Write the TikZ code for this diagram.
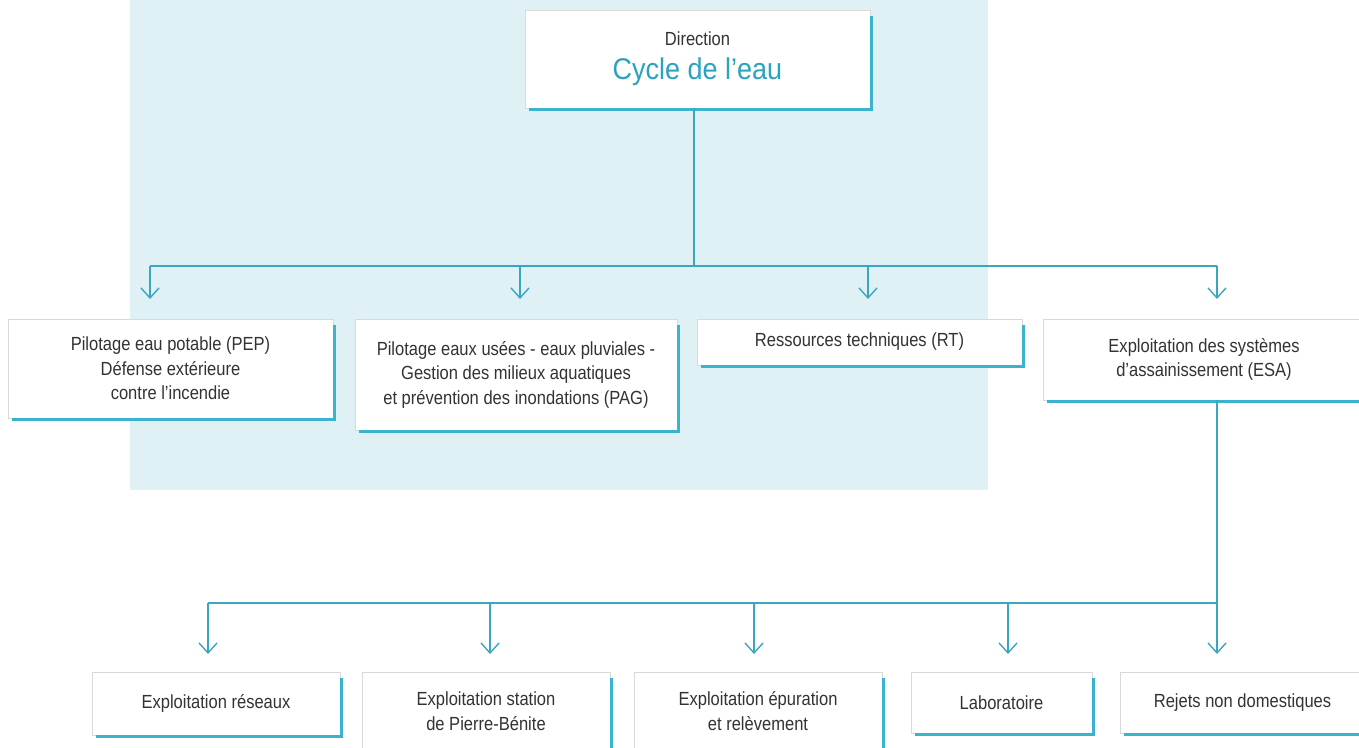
\documentclass[tikz,border=0pt]{standalone}
\usepackage{fontspec}
\setmainfont{Liberation Sans}[FakeStretch=0.87]
\newfontfamily\titlefont{Liberation Sans}[FakeStretch=0.9]
\usetikzlibrary{arrows.meta}
\definecolor{bgblue}{HTML}{E0F1F6}
\definecolor{connc}{HTML}{3AA6BF}
\definecolor{accentc}{HTML}{3CB3CE}
\definecolor{txtc}{HTML}{333333}
\definecolor{titlec}{HTML}{2AA3BE}
\definecolor{edgec}{HTML}{D9D9D9}
\newcommand\boxaccent[1]{\draw[accentline] ([xshift=1pt,yshift=-6pt]#1.north east) -- ([xshift=1pt,yshift=-1.2pt]#1.south east) -- ([xshift=4pt,yshift=-1.2pt]#1.south west);}
\begin{document}
\begin{tikzpicture}[x=1pt,y=-1pt,
  box/.style={draw=edgec,line width=0.6pt,fill=white,inner sep=0pt,align=center,text=txtc,font=\fontsize{19}{24.5}\selectfont},
  accentline/.style={draw=accentc,line width=3.5pt},
  link/.style={draw=connc,line width=1.4pt},
  arr/.style={link,-{Straight Barb[length=10pt,width=18pt,line width=1.4pt]}},
]
\useasboundingbox (0,0) rectangle (1359,747);
\fill[bgblue] (130,0) rectangle (988,490);

% top
\node[box,minimum width=345pt,minimum height=98pt] (dir) at (697.5,59)
  {Direction\\[9.5pt]{\color{titlec}\titlefont\fontsize{30}{30}\selectfont Cycle de l’eau}};
\boxaccent{dir}

% second row
\node[box,minimum width=325pt,minimum height=99pt] (pep) at (170.5,368.5)
  {Pilotage eau potable (PEP)\\Défense extérieure\\contre l’incendie};
\node[box,minimum width=322pt,minimum height=111pt] (pag) at (516,374.5)
  {Pilotage eaux usées - eaux pluviales -\\Gestion des milieux aquatiques\\et prévention des inondations (PAG)};
\node[box,minimum width=325pt,minimum height=46pt] (rt) at (859.5,342)
  {Ressources techniques (RT)};
\node[box,minimum width=322pt,minimum height=81pt] (esa) at (1204,359.5)
  {Exploitation des systèmes\\d’assainissement (ESA)};
\foreach \n in {pep,pag,rt,esa} {\boxaccent{\n}}

% third row
\node[box,minimum width=248pt,minimum height=63pt] (res) at (216,703.5)
  {Exploitation réseaux};
\node[box,minimum width=248pt,minimum height=78pt] (pb) at (486,711)
  {Exploitation station\\de Pierre-Bénite};
\node[box,minimum width=248pt,minimum height=78pt] (epu) at (758,711)
  {Exploitation épuration\\et relèvement};
\node[box,minimum width=181pt,minimum height=61pt] (lab) at (1001.5,702.5)
  {Laboratoire};
\node[box,minimum width=245pt,minimum height=61pt] (rej) at (1242.5,702.5)
  {Rejets non domestiques};
\foreach \n in {res,pb,epu,lab,rej} {\boxaccent{\n}}

% upper connectors
\coordinate (b1) at (694,266);
\coordinate (t1) at (150,299);
\coordinate (t2) at (520,299);
\coordinate (t3) at (868,299);
\coordinate (t4) at (1217,299);
\draw[link] (dir.south -| b1) -- (b1);
\draw[link] (t1 |- b1) -- (t4 |- b1);
\foreach \t in {t1,t2,t3,t4} {\draw[arr] (\t |- b1) -- (\t);}

% lower connectors
\coordinate (b2) at (1217,603);
\coordinate (u1) at (208,654);
\coordinate (u2) at (490,654);
\coordinate (u3) at (754,654);
\coordinate (u4) at (1008,654);
\coordinate (u5) at (1217,654);
\draw[link] (esa.south -| b2) -- (b2);
\draw[link] (u1 |- b2) -- (u5 |- b2);
\foreach \u in {u1,u2,u3,u4,u5} {\draw[arr] (\u |- b2) -- (\u);}
\end{tikzpicture}
\end{document}
